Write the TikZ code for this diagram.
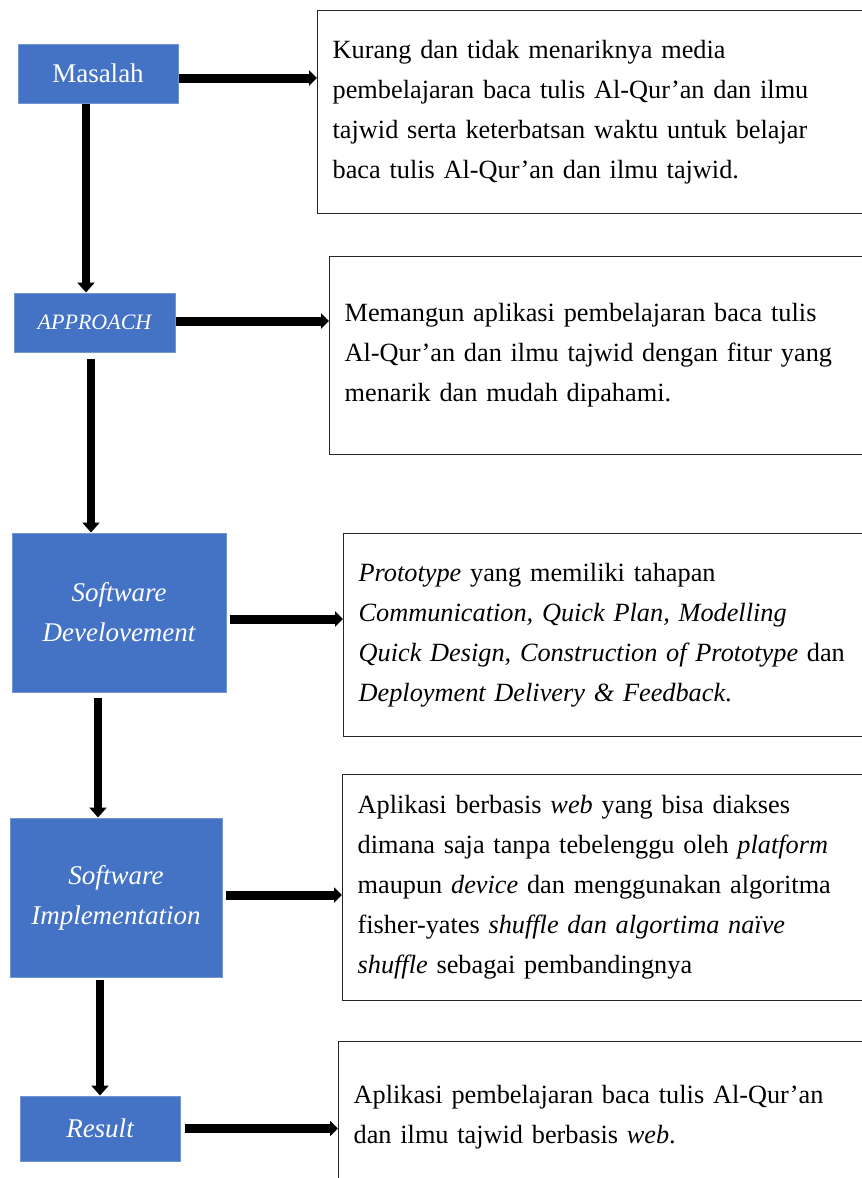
\documentclass[tikz,border=0pt]{standalone}
\usepackage{fontspec}
\setmainfont{Liberation Serif}
\usetikzlibrary{arrows.meta,positioning}
\definecolor{stageBlue}{HTML}{4472C4}
\tikzset{
  stageBox/.style={draw=stageBlue!75!white, line width=1pt, fill=stageBlue, text=white, align=center, inner sep=2pt, font=\fontsize{27}{40}\selectfont},
  descBox/.style={draw=black!85, line width=1.3pt, fill=white, align=left, text width=570pt, inner xsep=15pt, inner ysep=0pt, anchor=north west, font=\fontsize{26.3}{40}\selectfont},
  hArrow/.style={-{Triangle[width=15pt,length=8pt]}, line width=9pt},
  vArrow/.style={-{Triangle[width=17pt,length=10pt]}, line width=7.5pt}
}
\begin{document}
\begin{tikzpicture}[x=1pt, y=-1pt]
  \useasboundingbox (0,0) rectangle (862,1178);
  \clip (0,0) rectangle (862,1178);
  \fill[white] (0,0) rectangle (862,1178);

  % stages on the left
  \node[stageBox, minimum width=160pt, minimum height=59pt] (masalah) at (98,73.5) {Masalah};
  \node[stageBox, minimum width=161pt, minimum height=59pt, font=\fontsize{22}{30}\selectfont\itshape] (approach) at (94.5,322.5) {APPROACH};
  \node[stageBox, minimum width=214pt, minimum height=159pt, font=\fontsize{27}{40}\selectfont\itshape] (swDev) at (119,612.5) {Software\\Develovement};
  \node[stageBox, minimum width=212pt, minimum height=159pt, font=\fontsize{27}{40}\selectfont\itshape] (swImpl) at (116,897.5) {Software\\Implementation};
  \node[stageBox, minimum width=160pt, minimum height=65pt, font=\fontsize{27}{40}\selectfont\itshape] (result) at (100,1128.5) {Result};

  % descriptions on the right
  \node[descBox, minimum height=203pt] (descMasalah) at (317,10) {Kurang dan tidak menariknya media\\pembelajaran baca tulis Al-Qur’an dan ilmu\\tajwid serta keterbatsan waktu untuk belajar\\baca tulis Al-Qur’an dan ilmu tajwid.};
  \node[descBox, minimum height=198pt] (descApproach) at (329,256) {Memangun aplikasi pembelajaran baca tulis\\Al-Qur’an dan ilmu tajwid dengan fitur yang\\menarik dan mudah dipahami.};
  \node[descBox, minimum height=203pt] (descDev) at (343,533) {\textit{Prototype} yang memiliki tahapan\\\textit{Communication, Quick Plan, Modelling}\\\textit{Quick Design, Construction of Prototype} dan\\\textit{Deployment Delivery \& Feedback}.};
  \node[descBox, minimum height=226pt] (descImpl) at (342,774) {Aplikasi berbasis \textit{web} yang bisa diakses\\dimana saja tanpa tebelenggu oleh \textit{platform}\\maupun \textit{device} dan menggunakan algoritma\\fisher-yates \textit{shuffle dan algortima naïve}\\\textit{shuffle} sebagai pembandingnya};
  \node[descBox, minimum height=152pt] (descResult) at (338,1041) {Aplikasi pembelajaran baca tulis Al-Qur’an\\dan ilmu tajwid berbasis \textit{web}.};

  % stage to description
  \draw[hArrow] ([yshift=-4.5pt]masalah.east) -- ([yshift=-4.5pt]masalah.east -| descMasalah.west);
  \draw[hArrow] ([yshift=1.5pt]approach.east) -- ([yshift=1.5pt]approach.east -| descApproach.west);
  \draw[hArrow] ([xshift=3pt,yshift=-6.5pt]swDev.east) -- ([yshift=-6.5pt]swDev.east -| descDev.west);
  \draw[hArrow] ([xshift=3pt,yshift=2.5pt]swImpl.east) -- ([yshift=2.5pt]swImpl.east -| descImpl.west);
  \draw[hArrow] ([xshift=4pt]result.east) -- (result.east -| descResult.west);

  % stage to stage
  \draw[vArrow] ([xshift=-12pt]masalah.south) -- ([xshift=-12pt]masalah.south |- approach.north);
  \draw[vArrow] ([xshift=-3.5pt,yshift=-6pt]approach.south) -- ([xshift=-3.5pt]approach.south |- swDev.north);
  \draw[vArrow] ([xshift=-21pt,yshift=-5pt]swDev.south) -- ([xshift=-21pt]swDev.south |- swImpl.north);
  \draw[vArrow] ([xshift=-16pt,yshift=-2pt]swImpl.south) -- ([xshift=-16pt]swImpl.south |- result.north);
\end{tikzpicture}
\end{document}
